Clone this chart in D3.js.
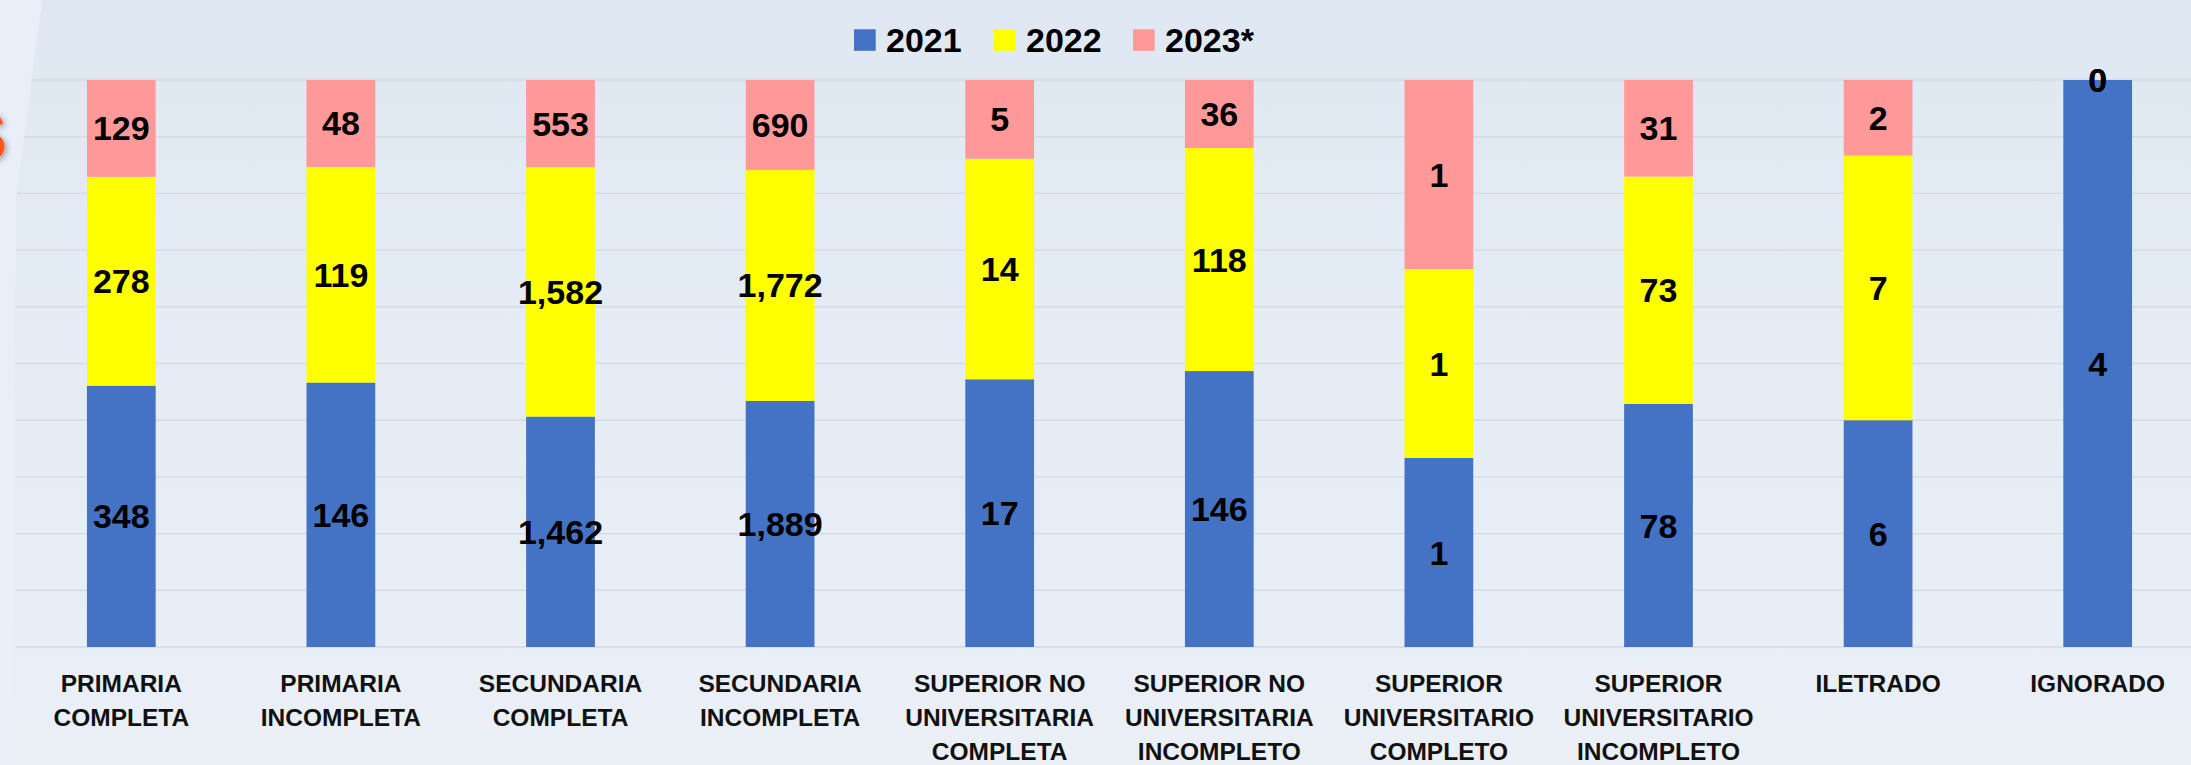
<!DOCTYPE html>
<html>
<head>
<meta charset="utf-8">
<script src="https://cdn.jsdelivr.net/npm/d3@7"></script>
<style>
  html, body { margin: 0; padding: 0; background: #e4ebf4; }
  svg { display: block; }
</style>
</head>
<body>
<svg id="chart" width="2191" height="765"></svg>
<script>
// ---- data ----
const categories = [
  "PRIMARIA\nCOMPLETA",
  "PRIMARIA\nINCOMPLETA",
  "SECUNDARIA\nCOMPLETA",
  "SECUNDARIA\nINCOMPLETA",
  "SUPERIOR NO\nUNIVERSITARIA\nCOMPLETA",
  "SUPERIOR NO\nUNIVERSITARIA\nINCOMPLETO",
  "SUPERIOR\nUNIVERSITARIO\nCOMPLETO",
  "SUPERIOR\nUNIVERSITARIO\nINCOMPLETO",
  "ILETRADO",
  "IGNORADO"
];
const seriesNames = ["2021", "2022", "2023*"];
const values2021 = [348, 146, 1462, 1889, 17, 146, 1, 78, 6, 4];
const values2022 = [278, 119, 1582, 1772, 14, 118, 1, 73, 7, 0];
const values2023 = [129, 48, 553, 690, 5, 36, 1, 31, 2, 0];
const yTicks = [0, 0.1, 0.2, 0.3, 0.4, 0.5, 0.6, 0.7, 0.8, 0.9, 1];
const colors = ["#4472C4", "#FFFF00", "#FF9999"];

(function () {
// ---- layout ----
const W = 2191, H = 765;
const plotTop = 80, plotBase = 647;
const svg = d3.select("#chart");

// background
const defs = svg.append("defs");
const bg = defs.append("linearGradient").attr("id", "bg").attr("x1", 0).attr("y1", 0).attr("x2", 0).attr("y2", 1);
bg.append("stop").attr("offset", "0%").attr("stop-color", "#dfe8f2");
bg.append("stop").attr("offset", "100%").attr("stop-color", "#ebf0f7");
svg.append("rect").attr("width", W).attr("height", H).attr("fill", "url(#bg)");

const rows = categories.map((c, i) => ({
  cat: c,
  "2021": values2021[i], "2022": values2022[i], "2023*": values2023[i]
}));

const x = d3.scaleBand().domain(categories).range([11.5, 2207.5]).paddingInner(0.687).paddingOuter(0.3435);
const y = d3.scaleLinear().domain([0, 1]).range([plotBase, plotTop]);

// gridlines
svg.append("g").selectAll("line").data(yTicks).join("line")
  .attr("x1", 16).attr("x2", W)
  .attr("y1", d => y(d)).attr("y2", d => y(d))
  .attr("stroke", "#d6d9de").attr("stroke-width", 1.4);

// stacked (normalized) bars
const stack = d3.stack().keys(seriesNames).offset(d3.stackOffsetExpand);
const stacked = stack(rows);

const gBars = svg.append("g");
stacked.forEach((s, si) => {
  gBars.append("g").selectAll("rect").data(s).join("rect")
    .attr("x", d => x(d.data.cat))
    .attr("width", x.bandwidth())
    .attr("y", d => y(d[1]))
    .attr("height", d => Math.max(0, y(d[0]) - y(d[1])))
    .attr("fill", colors[si]);
});

// value labels
const fmt = d3.format(",");
const gLab = svg.append("g")
  .attr("font-family", "'Liberation Sans', Arial, sans-serif")
  .attr("font-weight", "bold").attr("font-size", 34).attr("fill", "#000")
  .attr("text-anchor", "middle");
stacked.forEach((s, si) => {
  gLab.append("g").selectAll("text").data(s).join("text")
    .attr("x", d => x(d.data.cat) + x.bandwidth() / 2)
    .attr("y", d => (y(d[0]) + y(d[1])) / 2 + 12)
    .text(d => fmt(d.data[seriesNames[si]]));
});

// category labels
const gCat = svg.append("g")
  .attr("font-family", "'Liberation Sans', Arial, sans-serif")
  .attr("font-weight", "bold").attr("font-size", 24.5).attr("fill", "#111")
  .attr("text-anchor", "middle");
categories.forEach(c => {
  const cx = x(c) + x.bandwidth() / 2;
  const t = gCat.append("text").attr("x", cx).attr("y", 692);
  c.split("\n").forEach((line, li) => {
    t.append("tspan").attr("x", cx).attr("y", 692 + li * 33.8).text(line);
  });
});

// legend
const legendX = [854, 994, 1133];
const gLeg = svg.append("g");
seriesNames.forEach((n, i) => {
  gLeg.append("rect").attr("x", legendX[i]).attr("y", 29.3).attr("width", 21.7).attr("height", 21.5).attr("fill", colors[i]);
  gLeg.append("text").attr("x", legendX[i] + 32).attr("y", 51.5)
    .attr("font-family", "'Liberation Sans', Arial, sans-serif")
    .attr("font-weight", "bold").attr("font-size", 34).attr("fill", "#000")
    .text(n);
});

// left decorative panel and cut-off title fragment
svg.append("path")
  .attr("d", "M0,0 L42,0 L16,200 L13,765 L0,765 Z")
  .attr("fill", "#e9f0f8").attr("opacity", 0.9);
const sh = defs.append("filter").attr("id", "sh").attr("x", "-50%").attr("y", "-50%").attr("width", "200%").attr("height", "200%");
sh.append("feGaussianBlur").attr("in", "SourceAlpha").attr("stdDeviation", 3).attr("result", "b");
sh.append("feOffset").attr("in", "b").attr("dx", 2).attr("dy", 2).attr("result", "o");
sh.append("feComponentTransfer").attr("in", "o").attr("result", "o2").append("feFuncA").attr("type", "linear").attr("slope", 0.35);
const m = sh.append("feMerge"); m.append("feMergeNode").attr("in", "o2"); m.append("feMergeNode").attr("in", "SourceGraphic");
svg.append("text").attr("x", 7).attr("y", 160).attr("text-anchor", "end")
  .attr("font-family", "'Liberation Sans', Arial, sans-serif").attr("font-weight", "bold")
  .attr("font-size", 68).attr("fill", "#FF5722").attr("filter", "url(#sh)")
  .text("S");
})();
</script>
</body>
</html>
